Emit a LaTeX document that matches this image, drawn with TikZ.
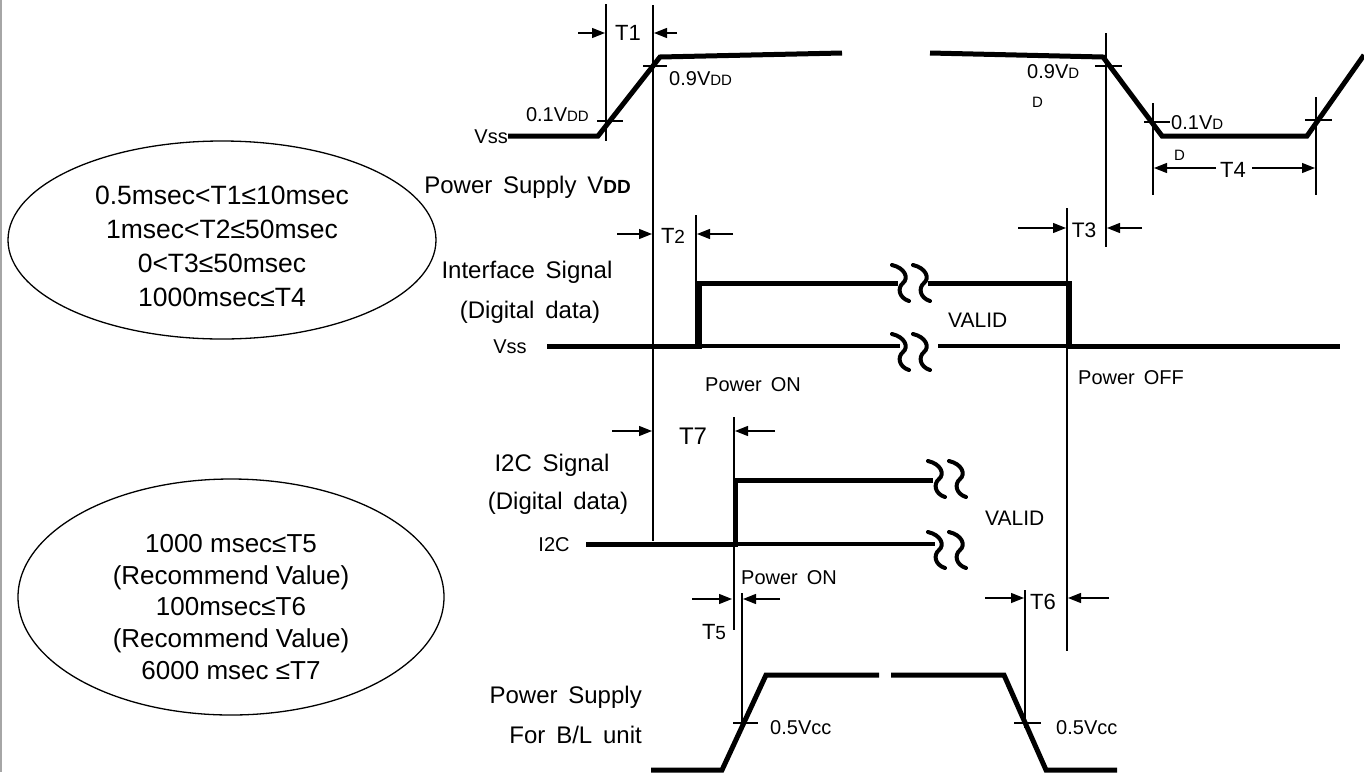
\documentclass[tikz,border=0pt]{standalone}
\usepackage{fontspec}
\setmainfont{Liberation Sans}
\usetikzlibrary{arrows.meta}
\newcommand\fsz[1]{\fontsize{#1}{#1}\selectfont}
\newcommand\wsp{\hspace{0.45em}}
\begin{document}
\begin{tikzpicture}[x=1pt,y=-1pt,
  thin/.style={line width=1.2pt},
  sig/.style={line width=5pt, line join=miter},
  sigm/.style={line width=3.2pt},
  dimarr/.style={line width=1.3pt,-{Triangle[length=13pt,width=10pt]}},
  lbl/.style={inner sep=0pt, font=\fsz{20}},
  big/.style={inner sep=0pt, font=\fsz{24}},
  brkline/.style={line width=4pt, line cap=round},
  brk/.pic={
    \draw[brkline] (0,-18) .. controls (13,-15) and (17,-5) .. (11,0) .. controls (5,5) and (7,15) .. (17,18);
    \draw[brkline] (21,-18) .. controls (34,-15) and (38,-5) .. (32,0) .. controls (26,5) and (28,15) .. (38,18);
  }]
\useasboundingbox (0,0) rectangle (1364,772);
\draw[gray!70, line width=1.5pt] (1,0) -- (1,772);

% ellipses
\draw[line width=1.3pt] (222,240) ellipse [x radius=214, y radius=99];
\node[inner sep=0pt, align=center, font=\fontsize{26.5}{34}\selectfont] (e1) at (222,246)
  {0.5msec<T1≤10msec\\1msec<T2≤50msec\\0<T3≤50msec\\1000msec≤T4};
\draw[line width=1.3pt] (231,597) ellipse [x radius=213, y radius=118];
\node[inner sep=0pt, align=center, font=\fontsize{26}{31.7}\selectfont] (e2) at (231,607)
  {1000 msec≤T5\\(Recommend Value)\\100msec≤T6\\(Recommend Value)\\6000 msec ≤T7};

% thin vertical reference lines
\draw[thin] (606,4) -- (606,141);
\draw[thin] (653,5) -- (653,541);
\draw[thin] (696,215) -- (696,346);
\draw[thin] (734,417) -- (734,630);
\draw[thin] (742,593) -- (742,728);
\draw[thin] (1025,590) -- (1025,728);
\draw[thin] (1067,208) -- (1067,651);
\draw[thin] (1106,33) -- (1106,247);
\draw[thin] (1153,103) -- (1153,195);
\draw[thin] (1316,97) -- (1316,195);

% ticks
\draw[thin] (597,121) -- (623,121);
\draw[thin] (643,66) -- (667,66);
\draw[thin] (1095,66) -- (1122,66);
\draw[thin] (1144,122) -- (1170,122);
\draw[thin] (1305,120) -- (1332,120);
\draw[thin] (733,723) -- (758,723);
\draw[thin] (1014,723) -- (1041,723);

% power supply VDD
\draw[sig] (508,136) -- (598,136) -- (660,57) -- (842,53);
\draw[sig] (930,53) -- (1103,57) -- (1162,136) -- (1307,136) -- (1364,55);

% interface signal
\draw[sig] (547,346) -- (699,346) -- (699,283) -- (898,283);
\draw[sigm] (699,346) -- (900,346);
\draw[sig] (928,283) -- (1069,283) -- (1069,346) -- (1340,346);
\draw[sigm] (938,346) -- (1069,346);
\pic at (892,283) {brk};
\pic at (892,352) {brk};

% I2C signal
\draw[sig] (586,544) -- (735,544) -- (735,480) -- (933,480);
\draw[sigm] (735,544) -- (935,544);
\pic at (928,479) {brk};
\pic at (928,550) {brk};

% B/L power supply
\draw[sig] (651,770) -- (722,770) -- (766,675) -- (879,675);
\draw[sig] (891,675) -- (1004,675) -- (1046,770) -- (1117,770);

% dimension arrows
\draw[dimarr] (578,33) -- (605,33);
\draw[dimarr] (677,33) -- (654,33);
\draw[dimarr] (617,234) -- (652,234);
\draw[dimarr] (733,234) -- (697,234);
\draw[dimarr] (1018,228) -- (1066,228);
\draw[dimarr] (1142,228) -- (1107,228);
\draw[dimarr] (1216,168) -- (1154,168);
\draw[dimarr] (1252,168) -- (1315,168);
\draw[dimarr] (612,431) -- (652,431);
\draw[dimarr] (775,431) -- (735,431);
\draw[dimarr] (692,599) -- (732,599);
\draw[dimarr] (780,599) -- (743,599);
\draw[dimarr] (985,598) -- (1024,598);
\draw[dimarr] (1109,598) -- (1068,598);

% time labels
\node[inner sep=0pt, font=\fsz{22}] (t1) at (628,33) {T1};
\node[inner sep=0pt, font=\fsz{22}] (t2) at (673,236) {T{\fsz{19}2}};
\node[inner sep=0pt, font=\fsz{21}] (t3) at (1084,230) {T3};
\node[inner sep=0pt, font=\fsz{22}, fill=white, inner xsep=1pt] (t4) at (1233,170) {T4};
\node[inner sep=0pt, font=\fsz{24}] (t7) at (693,436) {T7};
\node[inner sep=0pt, font=\fsz{22}] (t5) at (714,632) {T{\fsz{19}5}};
\node[inner sep=0pt, font=\fsz{22}] (t6) at (1043,602) {T6};

% level labels
\node[lbl, anchor=east] (vss1) at (508,137) {Vss};
\node[lbl, anchor=east] (l01) at (589,115) {0.1V{\fsz{15}DD}};
\node[lbl, anchor=west] (l09) at (669,79) {0.9V{\fsz{15}DD}};
\node[lbl, anchor=west] (r09) at (1027,72) {0.9V{\fsz{15}D}};
\node[lbl, anchor=west, font=\fsz{15}] (r09d) at (1032,102) {D};
\node[lbl, anchor=west] (r01) at (1171,123) {0.1V{\fsz{15}D}};
\node[lbl, anchor=west, font=\fsz{15}] (r01d) at (1174,155) {D};
\node[big, anchor=east] (psv) at (631,187) {Power\wsp Supply\wsp V{\bfseries\fsz{19}DD}};

% interface labels
\node[big] (ifs) at (527,272) {Interface\wsp Signal};
\node[big] (ifd) at (530,312) {(Digital\wsp data)};
\node[lbl] (vss2) at (510,347) {Vss};
\node[lbl, anchor=west] (pon1) at (705,385) {Power\wsp ON};
\node[lbl, anchor=west, font=\fsz{21}] (val1) at (948,320) {VALID};
\node[lbl, anchor=west] (poff) at (1078,378) {Power\wsp OFF};

% I2C labels
\node[big] (i2s) at (552,465) {I2C\wsp Signal};
\node[big] (i2d) at (558,503) {(Digital\wsp data)};
\node[lbl] (i2c) at (554,545) {I2C};
\node[lbl, anchor=west, font=\fsz{21}] (val2) at (985,518) {VALID};
\node[lbl, anchor=west] (pon2) at (741,578) {Power\wsp ON};

% B/L labels
\node[big, anchor=east] (bl1) at (642,697) {Power\wsp Supply};
\node[big, anchor=east] (bl2) at (642,735) {For\wsp B/L\wsp unit};
\node[lbl, anchor=west] (vcc1) at (770,728) {0.5Vcc};
\node[lbl, anchor=west] (vcc2) at (1056,728) {0.5Vcc};
\end{tikzpicture}
\end{document}
